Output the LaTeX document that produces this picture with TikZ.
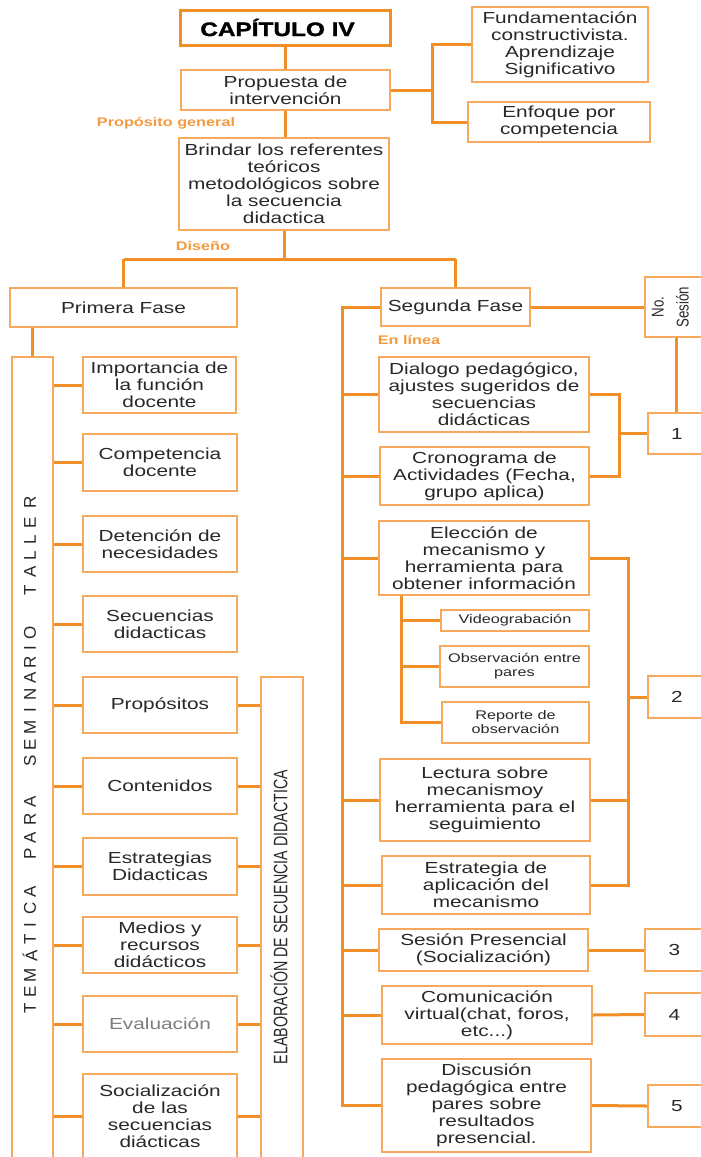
\documentclass[tikz,border=0pt]{standalone}
\usepackage{fontspec}
\setmainfont{Liberation Sans}[FakeStretch=1.3]
\newfontfamily\plainsans{Liberation Sans}
\newfontfamily\titlefont{Liberation Sans Bold}[FakeStretch=1.25,FakeBold=1.5]
\usetikzlibrary{calc}
\definecolor{conn}{RGB}{242,142,40}
\definecolor{boxc}{RGB}{246,168,92}
\definecolor{txt}{RGB}{40,40,40}
\definecolor{lblc}{RGB}{244,154,64}
\definecolor{greytxt}{RGB}{125,125,125}
\tikzset{
  box/.style={draw=boxc, line width=1.8pt, fill=white, align=center, inner sep=0pt, text=txt, font=\fontsize{16}{17}\selectfont},
  link/.style={draw=conn, line width=3pt},
  lbl/.style={text=lblc, font=\bfseries\fontsize{12.5}{14}\selectfont, inner sep=0pt},
  smalltext/.style={font=\fontsize{12.5}{14}\selectfont},
  letter/.style={rotate=90, inner sep=0pt, text=txt, font=\plainsans\fontsize{17}{17}\selectfont},
}
\newcommand\mybox[7][]{\node[box,#1,minimum width={(#5-#3)*1pt},minimum height={(#6-#4)*1pt}] (#2) at ({(#3+#5)/2},{(#4+#6)/2}) {#7};}
\begin{document}
\begin{tikzpicture}[x=1pt,y=-1pt]
\useasboundingbox (0,0) rectangle (701,1157);
\fill[white] (0,0) rectangle (701,1157);
\clip (0,0) rectangle (701,1157);

% top part
\mybox[draw=conn,line width=3pt,font=\titlefont\fontsize{19.5}{20}\selectfont,text=black]{title}{180}{10}{390}{45}{CAPÍTULO IV\hspace{15pt}}
\mybox{fund}{472}{7}{648}{82}{Fundamentación\\constructivista.\\Aprendizaje\\Significativo}
\mybox{prop}{181}{70}{390}{110}{Propuesta de\\intervención}
\mybox{enf}{468}{102}{650}{142}{Enfoque por\\competencia}
\mybox{brin}{179}{138}{389}{230}{Brindar los referentes\\teóricos\\metodológicos sobre\\la secuencia\\didactica}
\node[lbl] (lpg) at (166,123) {Propósito general};
\node[lbl] (ldis) at (203,246) {Diseño};

% phases
\mybox{prim}{10}{288}{237}{327}{Primera Fase}
\mybox{seg}{381}{288}{530}{326}{Segunda Fase}
\mybox{nos}{645}{277}{712}{337}{}
\node[rotate=90, inner sep=0pt, text=txt] (nost) at (671,307) {\scalebox{0.78}[1]{\plainsans\fontsize{17}{25}\selectfont\begin{tabular}{@{}c@{}}No.\\Sesión\end{tabular}}};
\node[lbl] (lel) at (409,340) {En línea};

% left column
\mybox{tem}{12}{357}{53}{1170}{}
\foreach \l/\yy [count=\i] in {T/1008,E/992,M/975,Á/956,T/939,I/925,C/908,A/892,P/854,A/838,R/819,A/802,S/761,E/745,M/727,I/710,N/694,A/678,R/662,I/648,O/633,T/590,A/572,L/556,L/540,E/523,R/502}
  \node[letter] (tl\i) at (30,\yy) {\l};
\mybox{imp}{83}{357}{236}{413}{Importancia de\\la función\\docente}
\mybox{comp}{83}{434}{237}{491}{Competencia\\docente}
\mybox{det}{83}{516}{237}{572}{Detención de\\necesidades}
\mybox{sec}{83}{596}{237}{652}{Secuencias\\didacticas}
\mybox{propo}{83}{677}{237}{733}{Propósitos}
\mybox{cont}{83}{758}{237}{814}{Contenidos}
\mybox{estr}{83}{838}{237}{895}{Estrategias\\Didacticas}
\mybox{med}{83}{917}{237}{973}{Medios y\\recursos\\didácticos}
\mybox[text=greytxt]{eval}{83}{996}{237}{1052}{Evaluación}
\mybox{soc}{83}{1074}{237}{1158}{Socialización\\de las\\secuencias\\diácticas}
\mybox{elab}{261}{677}{303}{1170}{}
\node[rotate=90, inner sep=0pt, text=txt] (elabt) at (279,917) {\scalebox{0.73}[1]{\plainsans\fontsize{19.5}{20}\selectfont ELABORACIÓN DE SECUENCIA DIDACTICA}};

% right column
\mybox{dial}{379}{357}{589}{432}{Dialogo pedagógico,\\ajustes sugeridos de\\secuencias\\didácticas}
\mybox{cron}{380}{447}{589}{505}{Cronograma de\\Actividades (Fecha,\\grupo aplica)}
\mybox{elec}{379}{521}{589}{595}{Elección de\\mecanismo y\\herramienta para\\obtener información}
\mybox[smalltext]{vid}{441}{610}{589}{631}{Videograbación}
\mybox[smalltext]{obs}{440}{646}{589}{687}{Observación entre\\pares}
\mybox[smalltext]{rep}{442}{702}{589}{743}{Reporte de\\observación}
\mybox{lect}{380}{759}{590}{841}{Lectura sobre\\mecanismoy\\herramienta para el\\seguimiento}
\mybox{estap}{382}{856}{590}{914}{Estrategia de\\aplicación del\\mecanismo}
\mybox{ses}{379}{929}{588}{971}{Sesión Presencial\\(Socialización)}
\mybox{com}{382}{986}{592}{1044}{Comunicación\\virtual(chat, foros,\\etc...)}
\mybox{disc}{382}{1059}{591}{1152}{Discusión\\pedagógica entre\\pares sobre\\resultados\\presencial.}
\mybox{b1}{648}{413}{712}{454}{1\hspace{6pt}}
\mybox{b2}{648}{676}{712}{718}{2\hspace{6pt}}
\mybox{b3}{645}{929}{712}{971}{3\hspace{8pt}}
\mybox{b4}{645}{993}{712}{1036}{4\hspace{8pt}}
\mybox{b5}{648}{1085}{712}{1127}{5\hspace{6pt}}

% connectors top
\draw[link] (title.south) -- (title.south |- prop.north);
\draw[link] (prop.south) -- (prop.south |- brin.north);
\coordinate (tj) at (432,0);
\draw[link] (prop.east) -- (tj |- prop.east);
\draw[link] (fund.west) -- (tj |- fund.west) -- (tj |- enf.west) -- (enf.west);
\coordinate (dj) at (284,259);
\draw[link] (brin.south) -- (dj);
\draw[link] (prim.north |- dj) -- (seg.north |- dj);
\draw[link] (prim.north |- dj) -- (prim.north);
\draw[link] (seg.north |- dj) -- (seg.north);

% left connectors
\draw[link] (tem.north |- prim.south) -- (tem.north);
\foreach \n in {imp,comp,det,sec,propo,cont,estr,med,eval,soc}
  \draw[link] (tem.east |- \n.west) -- (\n.west);
\foreach \n in {propo,cont,estr,med,eval,soc}
  \draw[link] (\n.east) -- (elab.west |- \n.east);

% right connectors
\coordinate (sp) at (342,0);
\draw[link] (seg.west) -- (sp |- seg.west) -- (sp |- disc.west) -- (disc.west);
\foreach \n in {dial,cron,elec,lect,estap,ses,com}
  \draw[link] (sp |- \n.west) -- (\n.west);
\coordinate (ss) at (401,0);
\draw[link] (ss |- elec.south) -- (ss |- rep.west) -- (rep.west);
\foreach \n in {vid,obs}
  \draw[link] (ss |- \n.west) -- (\n.west);
\coordinate (ga) at (619,0);
\draw[link] (dial.east) -- (ga |- dial.east) -- (ga |- cron.east) -- (cron.east);
\draw[link] (ga |- b1.west) -- (b1.west);
\coordinate (gb) at (628,0);
\draw[link] (elec.east) -- (gb |- elec.east) -- (gb |- estap.east) -- (estap.east);
\draw[link] (lect.east) -- (gb |- lect.east);
\draw[link] (gb |- b2.west) -- (b2.west);
\draw[link] (seg.east) -- (nos.west);
\coordinate (nv) at (676,0);
\draw[link] (nv |- nos.south) -- (nv |- b1.north);
\draw[link] (ses.east) -- (b3.west);
\draw[link] (com.east) -- (b4.west);
\draw[link] (disc.east) -- (b5.west);
\end{tikzpicture}
\end{document}
